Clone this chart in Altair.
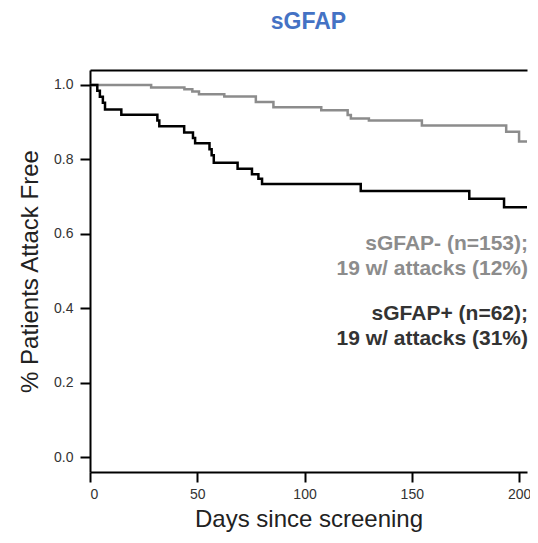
import altair as alt
import pandas as pd

# sGFAP- (grey) Kaplan-Meier steps
neg_days = [0, 28.5, 44.0, 47.7, 50.8, 62.6, 77.3, 85.5, 107.8, 120.1, 121.6, 130.0, 154.7, 194.0, 200.0, 204.0]
neg_surv = [1.0, 0.993, 0.988, 0.982, 0.975, 0.969, 0.954, 0.940, 0.932, 0.919, 0.910, 0.904, 0.891, 0.874, 0.848, 0.848]

# sGFAP+ (black) Kaplan-Meier steps
pos_days = [0, 3.4, 4.6, 6.0, 7.0, 14.6, 31.4, 32.3, 43.9, 48.0, 49.0, 55.7, 56.7, 57.7, 68.8, 75.5, 78.5, 80.2, 126.2, 176.8, 193.0, 204.0]
pos_surv = [1.0, 0.984, 0.968, 0.952, 0.934, 0.920, 0.904, 0.889, 0.872, 0.857, 0.843, 0.827, 0.811, 0.791, 0.775, 0.760, 0.748, 0.734, 0.715, 0.694, 0.671, 0.671]

x_ticks = [0, 50, 100, 150, 200]
y_ticks = [0.0, 0.2, 0.4, 0.6, 0.8, 1.0]

neg_label = "sGFAP- (n=153);\n19 w/ attacks (12%)"
pos_label = "sGFAP+ (n=62);\n19 w/ attacks (31%)"

FONT = "Liberation Sans"
W, H = 437, 402

neg_df = pd.DataFrame({"day": neg_days, "surv": neg_surv})
pos_df = pd.DataFrame({"day": pos_days, "surv": pos_surv})

xscale = alt.Scale(domain=[0, 203.7], nice=False, zero=False)
yscale = alt.Scale(domain=[-0.04, 1.04], nice=False, zero=False)

bottom_axis = alt.Axis(
    values=x_ticks, orient="bottom", title="Days since screening", grid=False,
    domainColor="black", domainWidth=2, tickColor="black", tickWidth=2, tickSize=10,
    labelFont=FONT, labelFontSize=14, labelColor="#333333", labelPadding=5,
    titleFont=FONT, titleFontSize=24, titleFontWeight="normal", titleColor="#222222", titlePadding=6,
)
top_axis = alt.Axis(
    orient="top", labels=False, ticks=False, title=None, grid=False,
    domainColor="black", domainWidth=2,
)
left_axis = alt.Axis(
    values=y_ticks, format=".1f", title="% Patients Attack Free", grid=False,
    domainColor="black", domainWidth=2, tickColor="black", tickWidth=2, tickSize=10,
    labelFont=FONT, labelFontSize=14, labelColor="#333333", labelPadding=7,
    titleFont=FONT, titleFontSize=24, titleFontWeight="normal", titleColor="#222222", titlePadding=11,
)

pos_line = alt.Chart(pos_df).mark_line(interpolate="step-after", color="black", strokeWidth=2.5, clip=True).encode(
    x=alt.X("day:Q", scale=xscale, axis=bottom_axis),
    y=alt.Y("surv:Q", scale=yscale, axis=left_axis),
)
neg_line = alt.Chart(neg_df).mark_line(interpolate="step-after", color="#8c8c8c", strokeWidth=2.5, clip=True).encode(
    x=alt.X("day:Q", scale=xscale, axis=top_axis),
    y=alt.Y("surv:Q", scale=yscale, axis=left_axis),
)

ann_df = pd.DataFrame({"label": [neg_label, pos_label], "grp": ["neg", "pos"]})
neg_text = alt.Chart(ann_df).transform_filter(alt.datum.grp == "neg").mark_text(
    align="right", baseline="alphabetic", font=FONT, fontSize=21, fontWeight="bold",
    color="#8c8c8c", lineBreak="\n", lineHeight=25,
).encode(text="label:N", x=alt.value(W + 1), y=alt.value(180))
pos_text = alt.Chart(ann_df).transform_filter(alt.datum.grp == "pos").mark_text(
    align="right", baseline="alphabetic", font=FONT, fontSize=21, fontWeight="bold",
    color="#333333", lineBreak="\n", lineHeight=25,
).encode(text="label:N", x=alt.value(W + 1), y=alt.value(250))

chart = alt.layer(neg_line, pos_line, neg_text, pos_text).resolve_axis(x="independent").properties(
    width=W, height=H,
    title=alt.Title("sGFAP", font=FONT, fontSize=23, fontWeight="bold", color="#4472C4",
                    anchor="middle", offset=36),
    autosize=alt.AutoSizeParams(type="none"),
    padding={"left": 82, "top": 62, "right": 3, "bottom": 62},
).configure_view(stroke=None)

chart.save("out.html", embed_options={"renderer": "svg", "actions": False})
